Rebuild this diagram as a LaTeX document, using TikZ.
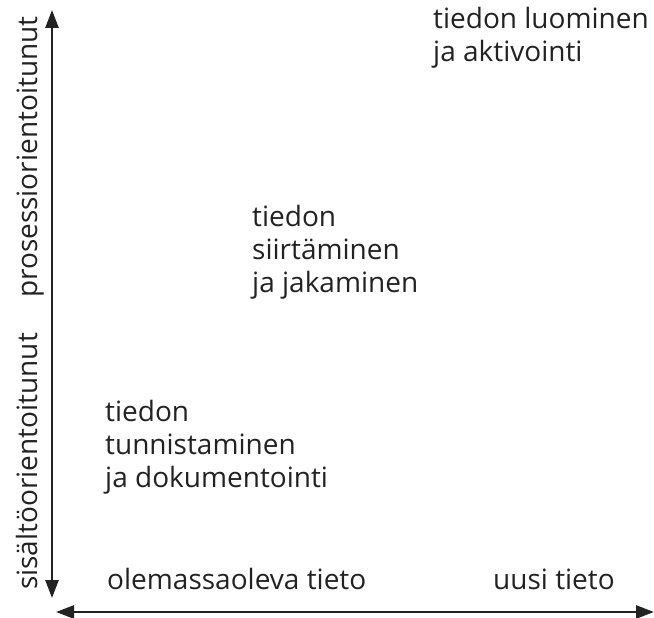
\documentclass[tikz,border=0pt]{standalone}
\usepackage{fontspec}
\setmainfont{Open Sans}
\usetikzlibrary{arrows.meta}
\definecolor{ink}{HTML}{222222}
\tikzset{
  axis/.style={draw=ink, line width=2.6pt,
    {Triangle[length=18pt,width=13pt]}-{Triangle[length=18pt,width=13pt]}},
  label/.style={text=ink, inner sep=0pt, align=left,
    font=\fontsize{28}{33}\selectfont, anchor=base west},
  axislabel/.style={label, rotate=90}
}
\begin{document}
\begin{tikzpicture}[x=1pt,y=-1pt]
  \useasboundingbox (0,0) rectangle (654,618);
  % axis end points
  \coordinate (vtop) at (52,10);
  \coordinate (vbot) at (52,598);
  \coordinate (hleft) at (56,612);
  \coordinate (hright) at (654,612);
  \draw[axis] (vbot) -- (vtop);
  \draw[axis] (hleft) -- (hright);
  % axis labels
  \node[axislabel] (proc) at (37,298) {prosessiorientoitunut};
  \node[axislabel] (cont) at (37,590) {sisältöorientoitunut};
  \node[label] (old) at (107,589) {olemassaoleva tieto};
  \node[label] (new) at (493,589) {uusi tieto};
  % knowledge activities (anchored at the baseline of the last line)
  \node[label] (create) at (433,62) {tiedon luominen\\ja aktivointi};
  \node[label] (share) at (252,292) {tiedon\\siirtäminen\\ja jakaminen};
  \node[label] (ident) at (105,487) {tiedon\\tunnistaminen\\ja dokumentointi};
\end{tikzpicture}
\end{document}
